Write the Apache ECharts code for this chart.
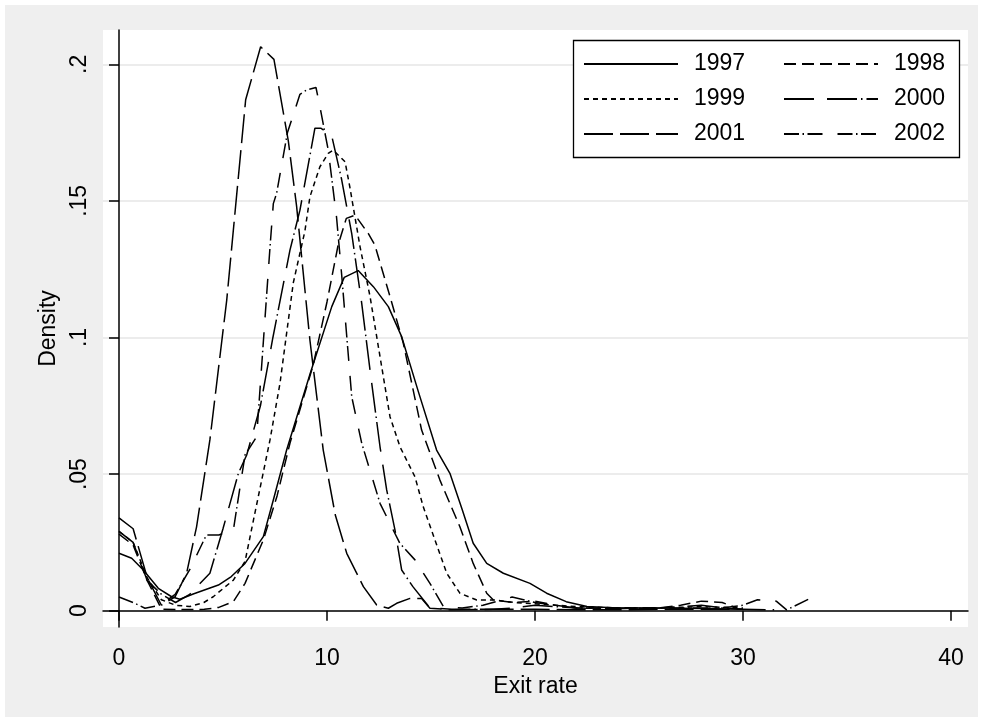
<!DOCTYPE html>
<html>
<head>
<meta charset="utf-8">
<script src="https://cdn.jsdelivr.net/npm/echarts@6/dist/echarts.min.js"></script>
<style>
  html, body { margin: 0; padding: 0; background: #ffffff; }
  #chart { position: absolute; left: 5px; top: 5px; width: 973px; height: 712px; }
</style>
</head>
<body>
<div id="chart"></div>
<script>
// ---- data ----
const years = ['1997', '1998', '1999', '2000', '2001', '2002'];
const xTicks = [0, 10, 20, 30, 40];
const yTicks = [0, 0.05, 0.1, 0.15, 0.2];

const x1997 = [0, 0.61, 1.17, 1.89, 2.53, 2.93, 3.6, 4.78, 5.4, 6.06, 6.94, 7.42, 8.06, 9.2, 10.23, 10.83, 11.5, 12.23, 12.95, 13.59, 14.4, 15.27, 15.91, 16.5, 17.03, 17.68, 18.48, 19.76, 20.56, 21.5, 22.5, 24, 26, 28, 30];
const d1997 = [0.021, 0.0192, 0.0149, 0.0082, 0.0051, 0.0042, 0.0062, 0.0094, 0.0125, 0.0173, 0.0271, 0.0405, 0.0588, 0.087, 0.1113, 0.122, 0.1245, 0.1186, 0.1113, 0.1003, 0.080, 0.0588, 0.0503, 0.037, 0.0247, 0.0173, 0.0137, 0.010, 0.0064, 0.0033, 0.0015, 0.001, 0.001, 0.0008, 0.0005];

const x1998 = [0, 0.68, 1.36, 2.05, 2.7, 3.4, 4.1, 4.8, 5.5, 6.06, 6.94, 7.6, 8.22, 9.34, 10.0, 10.54, 10.93, 11.35, 11.99, 12.3, 13.03, 13.67, 14.55, 15.43, 16.39, 17.03, 17.68, 18.0, 19, 20, 21, 22, 24, 26, 27, 28, 29, 29.7];
const d1998 = [0.028, 0.024, 0.011, 0.0005, 0.0004, 0.0004, 0.0005, 0.0012, 0.0033, 0.010, 0.0259, 0.042, 0.0613, 0.090, 0.113, 0.134, 0.1436, 0.1448, 0.138, 0.1339, 0.115, 0.0979, 0.0661, 0.0478, 0.0307, 0.0173, 0.0064, 0.0039, 0.003, 0.0035, 0.002, 0.001, 0.001, 0.001, 0.002, 0.0035, 0.003, 0.001];

const x1999 = [0, 0.68, 1.36, 2.04, 2.72, 3.4, 4.08, 4.53, 5.5, 6.06, 6.46, 7.26, 7.74, 8.38, 8.94, 9.18, 9.66, 10.06, 10.3, 10.87, 11.1, 11.59, 12.07, 12.55, 13.03, 13.51, 14.23, 14.63, 15.19, 15.76, 16.39, 17.2, 18.08, 19, 20, 21, 22, 24, 26, 28, 30];
const d1999 = [0.029, 0.025, 0.012, 0.004, 0.002, 0.0015, 0.003, 0.0051, 0.0112, 0.018, 0.033, 0.0625, 0.0832, 0.12, 0.139, 0.1515, 0.1625, 0.1674, 0.1686, 0.1643, 0.155, 0.1332, 0.115, 0.093, 0.071, 0.06, 0.049, 0.038, 0.0259, 0.0137, 0.0064, 0.0039, 0.0039, 0.003, 0.0025, 0.002, 0.0015, 0.001, 0.001, 0.0015, 0.001];

const x2000 = [0, 0.68, 1.36, 2.04, 2.72, 3.4, 4.37, 5.0, 5.74, 6.14, 6.8, 7.4, 8.22, 8.7, 9.42, 9.7, 10.22, 10.7, 11.19, 11.67, 12.07, 12.55, 12.87, 13.27, 13.59, 14.13, 14.95, 16, 18, 19, 20, 22, 24, 26, 28, 29, 30];
const d2000 = [0.029, 0.025, 0.011, 0.006, 0.003, 0.006, 0.0137, 0.03, 0.0503, 0.057, 0.075, 0.1, 0.132, 0.1466, 0.1766, 0.1766, 0.1741, 0.158, 0.138, 0.1125, 0.088, 0.06, 0.0442, 0.0295, 0.0149, 0.0088, 0.001, 0.0005, 0.0005, 0.001, 0.002, 0.001, 0.0008, 0.001, 0.002, 0.001, 0.0005];

const x2001 = [0, 0.68, 1.36, 2.04, 2.7, 3.25, 3.73, 4.37, 5.18, 5.42, 6.09, 6.81, 7.45, 8.14, 8.54, 9.18, 9.82, 10.4, 10.95, 11.75, 12.39, 12.95, 13.35, 13.99, 14.55, 14.95, 16, 18, 20, 22, 24, 26, 28, 30, 31.5];
const d2001 = [0.034, 0.030, 0.012, 0.002, 0.0051, 0.0137, 0.0307, 0.0625, 0.1137, 0.133, 0.187, 0.2064, 0.2018, 0.172, 0.148, 0.099, 0.0588, 0.035, 0.021, 0.0088, 0.0021, 0.0009, 0.0027, 0.0045, 0.0045, 0.0009, 0.0003, 0.0005, 0.0005, 0.0003, 0.0003, 0.0005, 0.0005, 0.0005, 0.0003];

const x2002 = [0, 0.68, 1.25, 2.0, 2.7, 3.4, 4.2, 4.8, 5.5, 6.06, 6.62, 7.26, 7.42, 7.58, 8.1, 8.7, 9.02, 9.47, 9.66, 10.06, 10.46, 10.7, 11.19, 11.67, 12.55, 13.5, 14.23, 14.95, 15.6, 16.5, 17.5, 18.9, 20, 22, 24, 26, 28, 29, 30, 30.7, 31.6, 32.1, 33.4];
const d2002 = [0.005, 0.003, 0.0009, 0.002, 0.006, 0.015, 0.0277, 0.0277, 0.0296, 0.057, 0.0637, 0.133, 0.149, 0.1528, 0.175, 0.189, 0.1906, 0.1915, 0.1845, 0.1686, 0.144, 0.1235, 0.0783, 0.0613, 0.0393, 0.0247, 0.0186, 0.010, 0.0015, 0.001, 0.002, 0.005, 0.003, 0.001, 0.0008, 0.001, 0.001, 0.001, 0.002, 0.004, 0.0035, 0.0003, 0.0051];

const xs = [x1997, x1998, x1999, x2000, x2001, x2002];
const ds = [d1997, d1998, d1999, d2000, d2001, d2002];

// ---- styles ----
const dashes = [
  'solid',
  [12, 6],
  [5, 4],
  [30, 4, 1.5, 4, 30, 13],
  [29, 7],
  [15, 3.5, 1.5, 3.5, 15, 15]
];
const dashOffsets = [0, 0, 0, 39.5, 0, 0];
const FONT = "'Liberation Sans', Arial, Helvetica, sans-serif";

const series = years.map((y, i) => ({
  name: y,
  type: 'line',
  symbol: 'none',
  silent: true,
  animation: false,
  lineStyle: { color: '#000000', width: 1.5, type: dashes[i], dashOffset: dashOffsets[i] },
  data: xs[i].map((x, k) => [x, ds[i][k]])
}));

const legendBase = {
  orient: 'vertical',
  top: 46,
  padding: 0,
  itemGap: 9,
  itemWidth: 94,
  itemHeight: 26,
  itemStyle: { opacity: 0 },
  textStyle: { fontFamily: FONT, fontSize: 23, color: '#000', lineHeight: 26, padding: [0, 0, 0, 11] },
  selectedMode: false
};

const chart = echarts.init(document.getElementById('chart'), null, { renderer: 'canvas' });
chart.setOption({
  backgroundColor: '#efefef',
  animation: false,
  grid: {
    left: 98, top: 25, width: 865, height: 597,
    show: true, backgroundColor: '#ffffff', borderWidth: 0
  },
  xAxis: {
    type: 'value',
    min: -0.769, max: 40.82,
    name: 'Exit rate',
    nameLocation: 'middle',
    nameGap: 44,
    nameTextStyle: { fontFamily: FONT, fontSize: 23, color: '#000' },
    axisLine: { lineStyle: { color: '#000', width: 1.5 } },
    axisTick: { show: true, length: 10, lineStyle: { color: '#000', width: 1.5 }, customValues: xTicks },
    axisLabel: { fontFamily: FONT, fontSize: 23, color: '#000', margin: 20, customValues: xTicks },
    splitLine: { show: false }
  },
  yAxis: {
    type: 'value',
    min: -0.00597, max: 0.21255,
    name: 'Density',
    nameLocation: 'middle',
    nameGap: 42,
    nameRotate: 90,
    nameTextStyle: { fontFamily: FONT, fontSize: 23, color: '#000' },
    axisLine: { show: true, lineStyle: { color: '#000', width: 1.5 } },
    axisTick: { show: true, length: 10, lineStyle: { color: '#000', width: 1.5 }, customValues: yTicks },
    axisLabel: {
      fontFamily: FONT, fontSize: 23, color: '#000', margin: 12, rotate: 90,
      customValues: yTicks,
      formatter: v => (Math.abs(v) < 1e-9 ? '0' : String(+v.toFixed(4)).replace(/^0\./, '.'))
    },
    splitLine: { show: true, lineStyle: { color: '#e6e6e6', width: 1.5 } }
  },
  legend: [
    Object.assign({}, legendBase, { left: 578, data: ['1997', '1999', '2001'] }),
    Object.assign({}, legendBase, { left: 778, data: ['1998', '2000', '2002'] })
  ],
  graphic: [{
    type: 'rect',
    z: 3,
    shape: { x: 568.5, y: 35.5, width: 386, height: 117 },
    style: { fill: '#ffffff', stroke: '#000000', lineWidth: 1.3 }
  }],
  series: series
});
</script>
</body>
</html>
